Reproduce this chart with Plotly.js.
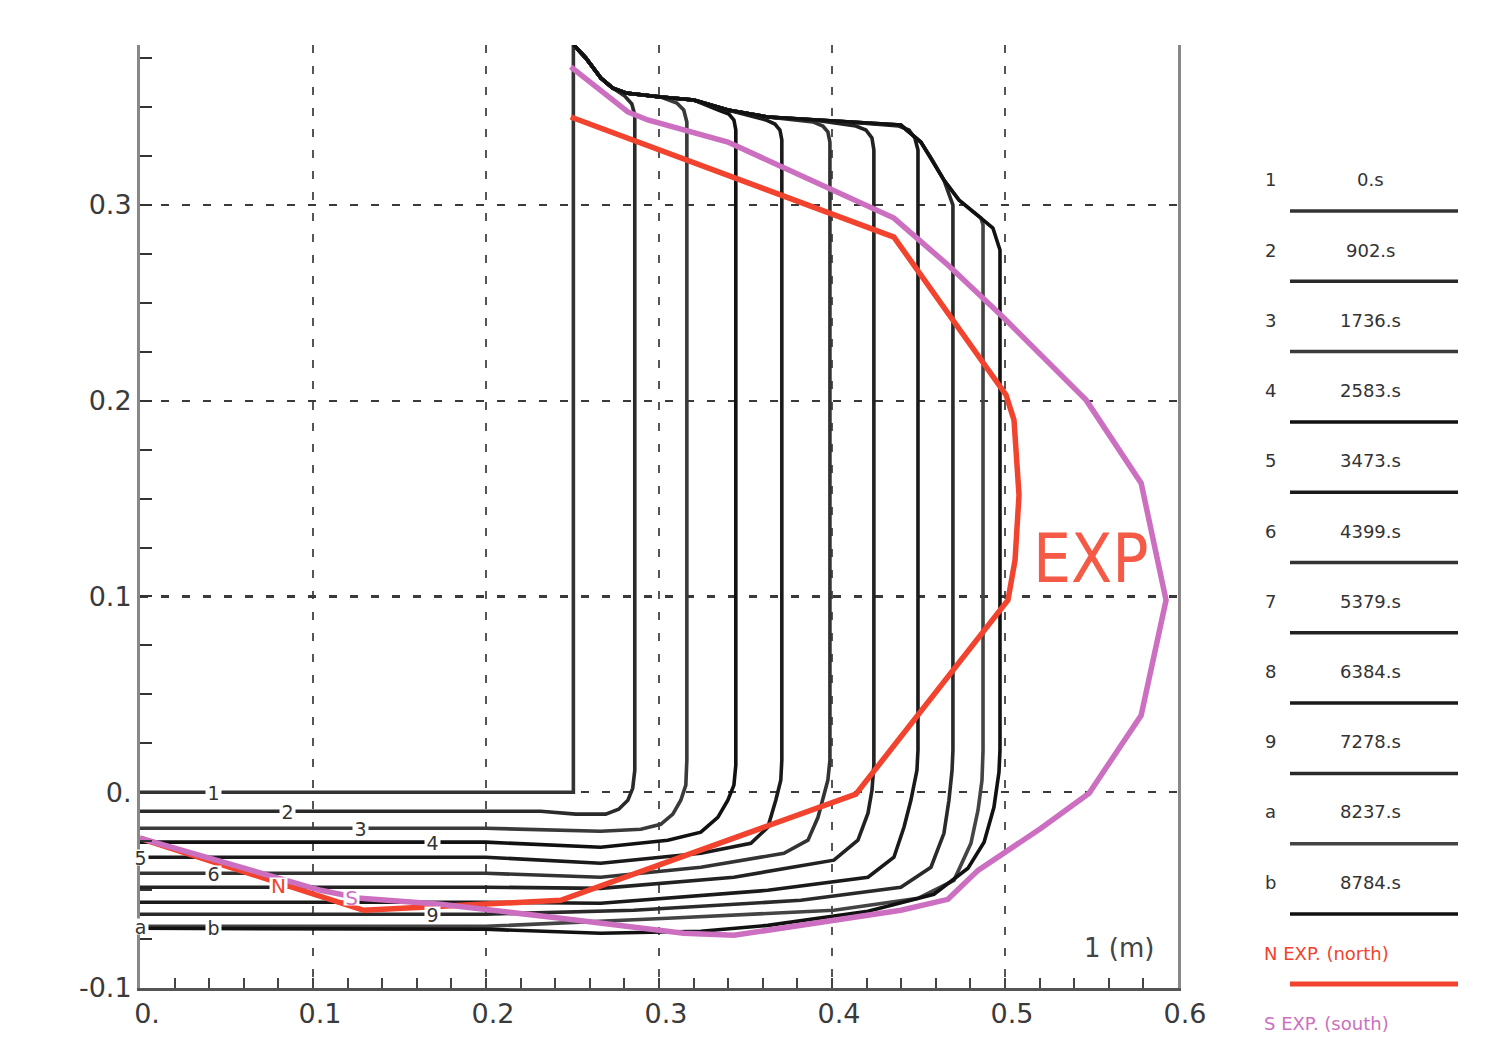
<!DOCTYPE html>
<html>
<head>
<meta charset="utf-8">
<script src="https://cdn.plot.ly/plotly-3.0.1.min.js"></script>
<style>html,body{margin:0;padding:0;background:#fff;}#chart{width:1505px;height:1044px;}</style>
</head>
<body>
<div id="chart"></div>
<script>
// ---------- data ----------
const curveIds = ['1','2','3','4','5','6','7','8','9','a','b'];
const curveTimes = ['0.s','902.s','1736.s','2583.s','3473.s','4399.s','5379.s','6384.s','7278.s','8237.s','8784.s'];
const curveColors = ['#333333','#2a2a2a','#3a3a3a','#111111','#1a1a1a','#333333','#222222','#1a1a1a','#2a2a2a','#444444','#111111'];

// common upper free surface (shared by curves 2..b)
const topSurfX = [0.2507, 0.2577, 0.2664, 0.2733, 0.2808, 0.3010, 0.3201, 0.3398, 0.3629, 0.3895, 0.4167, 0.4398, 0.4514, 0.4572, 0.4647, 0.4734, 0.4861, 0.4930, 0.4971];
const topSurfY = [0.3817, 0.3751, 0.3648, 0.3597, 0.3572, 0.3551, 0.3536, 0.3485, 0.3449, 0.3434, 0.3419, 0.3408, 0.3321, 0.3240, 0.3127, 0.3025, 0.2933, 0.2882, 0.2795];

const c1X = [0, 0.2505, 0.2505];
const c1Y = [0, 0, 0.3817];
const c2X = [0, 0.1998, 0.2316, 0.2519, 0.2692, 0.2767, 0.2820, 0.2848, 0.2860, 0.2860, 0.2843, 0.2802];
const c2Y = [-0.0097, -0.0097, -0.0097, -0.0112, -0.0112, -0.0087, -0.0041, 0.0020, 0.0112, 0.3459, 0.3516, 0.3556];
const c3X = [0, 0.1998, 0.2663, 0.2895, 0.3010, 0.3080, 0.3126, 0.3155, 0.3161, 0.3161, 0.3143, 0.3103, 0.3057];
const c3Y = [-0.0184, -0.0184, -0.0199, -0.0189, -0.0164, -0.0112, -0.0041, 0.0036, 0.0164, 0.3424, 0.3485, 0.3521, 0.3536];
const c4X = [0, 0.1998, 0.2663, 0.3051, 0.3242, 0.3340, 0.3398, 0.3433, 0.3444, 0.3444, 0.3433, 0.3404, 0.3358];
const c4Y = [-0.0255, -0.0255, -0.0281, -0.0245, -0.0204, -0.0128, -0.0041, 0.0036, 0.0138, 0.3383, 0.3434, 0.3464, 0.3480];
const c5X = [0, 0.1998, 0.2663, 0.3242, 0.3531, 0.3629, 0.3675, 0.3704, 0.3710, 0.3710, 0.3699, 0.3670, 0.3618];
const c5Y = [-0.0332, -0.0332, -0.0363, -0.0312, -0.0261, -0.0179, -0.0041, 0.0061, 0.0164, 0.3332, 0.3383, 0.3413, 0.3434];
const c6X = [0, 0.1998, 0.2663, 0.3242, 0.3722, 0.3861, 0.3919, 0.3947, 0.3976, 0.3988, 0.3988, 0.3976, 0.3947, 0.3890];
const c6Y = [-0.0414, -0.0414, -0.0434, -0.0383, -0.0312, -0.0245, -0.0128, -0.0041, 0.0061, 0.0164, 0.3321, 0.3373, 0.3403, 0.3424];
const c7X = [0, 0.1998, 0.2663, 0.3433, 0.4011, 0.4150, 0.4208, 0.4231, 0.4242, 0.4242, 0.4231, 0.4196, 0.4138];
const c7Y = [-0.0485, -0.0485, -0.0491, -0.0434, -0.0347, -0.0245, -0.0107, 0.0010, 0.0138, 0.3281, 0.3342, 0.3383, 0.3403];
const c8X = [0, 0.1998, 0.2663, 0.3629, 0.4208, 0.4358, 0.4416, 0.4456, 0.4491, 0.4497, 0.4497, 0.4479, 0.4445, 0.4387];
const c8Y = [-0.0562, -0.0562, -0.0567, -0.0501, -0.0434, -0.0332, -0.0179, -0.0041, 0.0112, 0.0215, 0.3281, 0.3342, 0.3383, 0.3403];
const c9X = [0, 0.1998, 0.2854, 0.3820, 0.4398, 0.4572, 0.4647, 0.4676, 0.4694, 0.4699, 0.4699];
const c9Y = [-0.0623, -0.0623, -0.0603, -0.0552, -0.0485, -0.0383, -0.0210, -0.0041, 0.0112, 0.0215, 0.2999];
const caX = [0, 0.1998, 0.3051, 0.4011, 0.4497, 0.4705, 0.4803, 0.4844, 0.4867, 0.4873, 0.4873];
const caY = [-0.0685, -0.0685, -0.0644, -0.0603, -0.0542, -0.0450, -0.0261, -0.0092, 0.0061, 0.0215, 0.2897];
const cbX = [0, 0.1998, 0.2663, 0.3242, 0.3629, 0.4208, 0.4589, 0.4786, 0.4879, 0.4936, 0.4965, 0.4971, 0.4971];
const cbY = [-0.0695, -0.0700, -0.0720, -0.0710, -0.0680, -0.0608, -0.0521, -0.0388, -0.0255, -0.0077, 0.0102, 0.0215, 0.2770];

// experimental fronts
const northX = [0.0, 0.1119, 0.1293, 0.2432, 0.4138, 0.5017, 0.5058, 0.5081, 0.5052, 0.5006, 0.4358, 0.2490];
const northY = [-0.0235, -0.0552, -0.0603, -0.0552, -0.0010, 0.0981, 0.1185, 0.1518, 0.1901, 0.2029, 0.2836, 0.3449];
const southX = [0.0, 0.1044, 0.1276, 0.1738, 0.2432, 0.2854, 0.3143, 0.3433, 0.4011, 0.4398, 0.4670, 0.4844, 0.5208, 0.5486, 0.5787, 0.5931, 0.5787, 0.5469, 0.4994, 0.4670, 0.4358, 0.3976, 0.3398, 0.2935, 0.2820, 0.2490];
const southY = [-0.0235, -0.0501, -0.0542, -0.0572, -0.0644, -0.0690, -0.0720, -0.0731, -0.0654, -0.0603, -0.0547, -0.0399, -0.0184, -0.0005, 0.0393, 0.0981, 0.1579, 0.2003, 0.2422, 0.2693, 0.2933, 0.3086, 0.3321, 0.3434, 0.3475, 0.3705];

// in-plot curve labels
const curveLabelX = [0.0425, 0.085, 0.1275, 0.169, 0.0, 0.0425, null, null, 0.169, 0.0, 0.0425];
const curveLabelY = [0, -0.0097, -0.0184, -0.0255, -0.0332, -0.0414, null, null, -0.0623, -0.0685, -0.0690];

const xTickVals = [0, 0.1, 0.2, 0.3, 0.4, 0.5, 0.6];
const xTickText = ['0.', '0.1', '0.2', '0.3', '0.4', '0.5', '0.6'];
const yTickVals = [-0.1, 0, 0.1, 0.2, 0.3];
const yTickText = ['-0.1', '0.', '0.1', '0.2', '0.3'];

// ---------- build traces ----------
const sideX = [c1X, c2X, c3X, c4X, c5X, c6X, c7X, c8X, c9X, caX, cbX];
const sideY = [c1Y, c2Y, c3Y, c4Y, c5Y, c6Y, c7Y, c8Y, c9Y, caY, cbY];

function buildCurve(xs, ys) {
  const X = xs.slice(), Y = ys.slice();
  const lastX = xs[xs.length - 1];
  for (let k = topSurfX.length - 1; k >= 0; k--) {
    if (topSurfX[k] < lastX - 0.001) { X.push(topSurfX[k]); Y.push(topSurfY[k]); }
  }
  return [X, Y];
}

const traces = [];
for (let i = 0; i < sideX.length; i++) {
  const [X, Y] = buildCurve(sideX[i], sideY[i]);
  traces.push({x: X, y: Y, type: 'scatter', mode: 'lines', name: curveIds[i] + ' ' + curveTimes[i],
    line: {color: curveColors[i], width: 3.6}, hoverinfo: 'skip'});
}
traces.push({x: northX, y: northY, type: 'scatter', mode: 'lines', name: 'N EXP. (north)',
  line: {color: '#f2432e', width: 5.5}, hoverinfo: 'skip'});
traces.push({x: southX, y: southY, type: 'scatter', mode: 'lines', name: 'S EXP. (south)',
  line: {color: '#cc6fc0', width: 5.5}, hoverinfo: 'skip'});

// ---------- layout helpers (pixel -> paper) ----------
const PL = 140, PW = 1038, PB = 988, PH = 943;
const PX = px => (px - PL) / PW;
const PY = py => (PB - py) / PH;

const annotations = [];
const shapes = [];

// curve labels inside plot
for (let i = 0; i < curveIds.length; i++) {
  if (curveLabelX[i] === null) continue;
  annotations.push({x: curveLabelX[i], y: curveLabelY[i], xref: 'x', yref: 'y', text: curveIds[i],
    showarrow: false, font: {family: 'DejaVu Sans', size: 19, color: '#333'},
    bgcolor: 'white', width: 15, height: 15, borderpad: 0, xanchor: 'center', yanchor: 'middle'});
}
annotations.push({x: 0.08, y: -0.0475, xref: 'x', yref: 'y', text: 'N', showarrow: false,
  font: {family: 'DejaVu Sans', size: 20, color: '#f2432e'}, bgcolor: 'white', width: 17, height: 15, borderpad: 0});
annotations.push({x: 0.122, y: -0.0540, xref: 'x', yref: 'y', text: 'S', showarrow: false,
  font: {family: 'DejaVu Sans', size: 20, color: '#cc6fc0'}, bgcolor: 'white', width: 15, height: 15, borderpad: 0});

// big EXP label and unit label
annotations.push({x: 0.5497, y: 0.1191, xref: 'x', yref: 'y', text: 'EXP', showarrow: false,
  font: {family: 'Liberation Sans Narrow, DejaVu Sans Condensed, Open Sans, sans-serif', size: 67, color: '#f45a46'},
  xanchor: 'center', yanchor: 'middle'});
annotations.push({x: PX(1119), y: PY(948), xref: 'paper', yref: 'paper', text: '1 (m)', showarrow: false,
  font: {family: 'DejaVu Sans', size: 26, color: '#444'}, xanchor: 'center', yanchor: 'middle'});

// legend block on the right
for (let i = 0; i < curveIds.length; i++) {
  const ty = 180 + 70.2 * i;
  const ly = 211 + 70.3 * i;
  annotations.push({x: PX(1270), y: PY(ty), xref: 'paper', yref: 'paper', text: curveIds[i], showarrow: false,
    font: {family: 'DejaVu Sans', size: 18, color: '#333'}, xanchor: 'center', yanchor: 'middle'});
  annotations.push({x: PX(1370), y: PY(ty), xref: 'paper', yref: 'paper', text: curveTimes[i], showarrow: false,
    font: {family: 'DejaVu Sans', size: 18, color: '#333'}, xanchor: 'center', yanchor: 'middle'});
  shapes.push({type: 'line', xref: 'paper', yref: 'paper', x0: PX(1290), x1: PX(1458), y0: PY(ly), y1: PY(ly),
    line: {color: curveColors[i], width: 3.5}});
}
annotations.push({x: PX(1262), y: PY(953), xref: 'paper', yref: 'paper', text: 'N EXP. (north)', showarrow: false,
  font: {family: 'DejaVu Sans', size: 18, color: '#f2432e'}, xanchor: 'left', yanchor: 'middle'});
shapes.push({type: 'line', xref: 'paper', yref: 'paper', x0: PX(1290), x1: PX(1458), y0: PY(984), y1: PY(984),
  line: {color: '#f2432e', width: 5}});
annotations.push({x: PX(1262), y: PY(1023), xref: 'paper', yref: 'paper', text: 'S EXP. (south)', showarrow: false,
  font: {family: 'DejaVu Sans', size: 18, color: '#cc6fc0'}, xanchor: 'left', yanchor: 'middle'});

const layout = {
  width: 1505, height: 1044,
  margin: {l: 140, r: 327, t: 45, b: 56, pad: 0},
  paper_bgcolor: 'white', plot_bgcolor: 'white',
  showlegend: false,
  font: {family: 'DejaVu Sans', color: '#333'},
  xaxis: {
    range: [0, 0.6], tickvals: xTickVals, ticktext: xTickText,
    ticks: 'inside', ticklen: 10, tickwidth: 2, tickcolor: '#444',
    showline: true, linecolor: '#555', linewidth: 3,
    showgrid: true, gridcolor: '#555', gridwidth: 2.2, griddash: '8px,13px',
    zeroline: false, ticklabelshift: 7,
    tickfont: {family: 'DejaVu Sans', size: 27, color: '#3a3a3a'},
    minor: {dtick: 0.02, tick0: 0, ticks: 'inside', ticklen: 10, tickwidth: 2, tickcolor: '#444', showgrid: false}
  },
  yaxis: {
    range: [-0.1, 0.3817], tickvals: yTickVals, ticktext: yTickText,
    ticks: 'inside', ticklen: 12, tickwidth: 2, tickcolor: '#333',
    showline: true, linecolor: '#888', linewidth: 3, mirror: true,
    showgrid: true, gridcolor: '#3a3a3a', gridwidth: 2.2, griddash: '8px,13px',
    zeroline: false,
    tickfont: {family: 'DejaVu Sans', size: 27, color: '#3a3a3a'},
    minor: {dtick: 0.025, tick0: 0, ticks: 'inside', ticklen: 12, tickwidth: 2, tickcolor: '#333', showgrid: false}
  },
  annotations: annotations,
  shapes: shapes
};

Plotly.newPlot('chart', traces, layout, {staticPlot: true, displayModeBar: false});
</script>
</body>
</html>
